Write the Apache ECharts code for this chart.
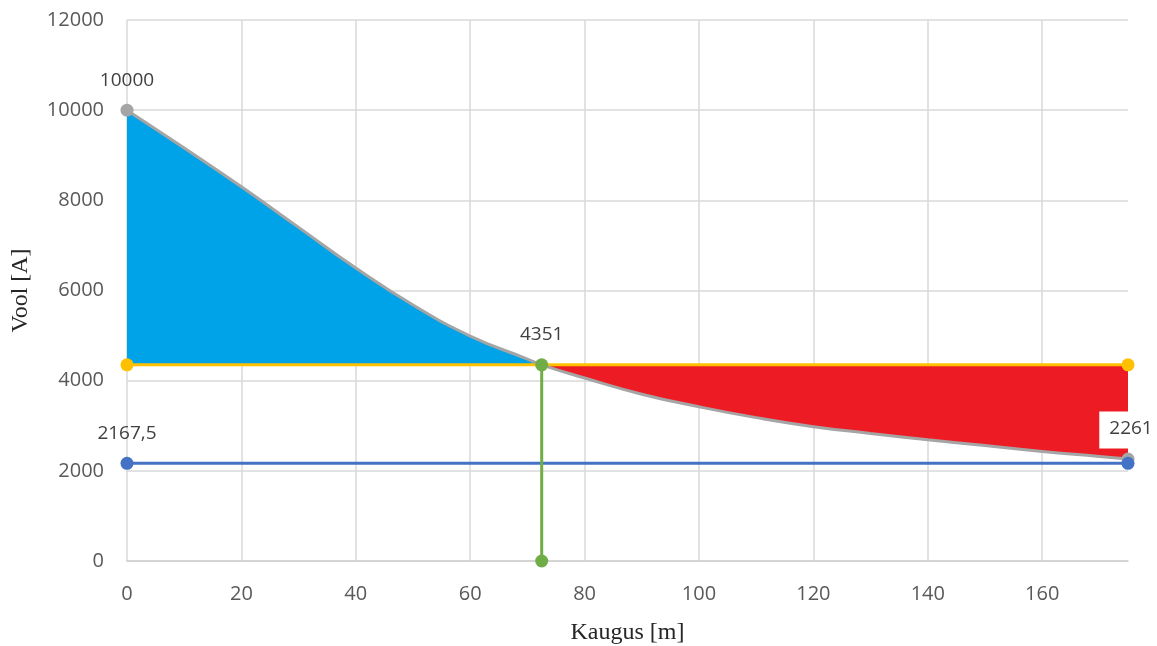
<!DOCTYPE html>
<html>
<head>
<meta charset="utf-8">
<title>Vool ja kaugus</title>
<script src="https://cdn.jsdelivr.net/npm/echarts@6/dist/echarts.min.js"></script>
<style>
  html, body { margin: 0; padding: 0; background: #ffffff; }
  #chart { width: 1157px; height: 646px; }
</style>
</head>
<body>
<div id="chart"></div>
<script>
// Distance along the line [m] and fault current [A] at that distance
const distance = [0, 10, 20, 30, 40, 50, 60, 70, 72.5, 80, 90, 100, 110, 120, 130, 140, 150, 160, 170, 175];
const current  = [10000, 9160, 8300, 7400, 6500, 5680, 4990, 4480, 4351, 4060, 3700, 3420, 3180, 2980, 2830, 2690, 2560, 2430, 2320, 2261];

// Protection setting levels
const crossDistance = 72.5;   // where the current falls to the setting
const settingCurrent = 4351;  // upper setting [A]
const minCurrent = 2167.5;    // lower limit [A]
const lineEnd = 175;          // line length [m]

// Axis ticks
const xTicks = [0, 20, 40, 60, 80, 100, 120, 140, 160];
const yTicks = [0, 2000, 4000, 6000, 8000, 10000, 12000];

const fmt = v => String(v).replace('.', ',');

const curvePts = distance.map((d, i) => [d, current[i]]);
const beforeCross = curvePts.filter(p => p[0] <= crossDistance);
const afterCross = curvePts.filter(p => p[0] >= crossDistance);
const lastIdx = curvePts.length - 1;

const labelStyle = {
  fontFamily: 'Open Sans',
  fontSize: 19,
  color: '#404040'
};
const markerSize = 13;

const chart = echarts.init(document.getElementById('chart'), null, { renderer: 'canvas' });

chart.setOption({
  animation: false,
  backgroundColor: '#ffffff',
  grid: { left: 127, right: 29, top: 20, bottom: 85, containLabel: false, outerBoundsMode: 'none' },
  xAxis: {
    type: 'value',
    min: 0,
    max: lineEnd,
    interval: xTicks[1] - xTicks[0],
    name: 'Kaugus [m]',
    nameLocation: 'middle',
    nameGap: 60,
    nameTextStyle: { fontFamily: 'Liberation Serif', fontSize: 24, color: '#262626' },
    axisLine: { show: true, lineStyle: { color: '#d0d0d0', width: 1.5 } },
    axisTick: { show: false },
    axisLabel: {
      margin: 23,
      fontFamily: 'Open Sans',
      fontSize: 20,
      color: '#595959',
      formatter: v => (xTicks.indexOf(v) >= 0 ? String(v) : '')
    },
    splitLine: { show: true, showMaxLine: false, lineStyle: { color: '#d9d9d9', width: 1.5 } }
  },
  yAxis: {
    type: 'value',
    min: yTicks[0],
    max: yTicks[yTicks.length - 1],
    interval: yTicks[1] - yTicks[0],
    name: 'Vool [A]',
    nameLocation: 'middle',
    nameGap: 94,
    nameTextStyle: { fontFamily: 'Liberation Serif', fontSize: 24, color: '#262626' },
    axisLine: { show: false },
    axisTick: { show: false },
    axisLabel: {
      margin: 23,
      fontFamily: 'Open Sans',
      fontSize: 20,
      color: '#595959',
      formatter: v => String(v)
    },
    splitLine: { show: true, lineStyle: { color: '#d9d9d9', width: 1.5 } }
  },
  series: [
    {
      // area above the setting, before the crossing point
      type: 'line',
      data: beforeCross,
      smooth: true,
      symbol: 'none',
      lineStyle: { width: 0 },
      areaStyle: { color: '#00A2E8', opacity: 1, origin: settingCurrent },
      silent: true,
      z: 1
    },
    {
      // area below the setting, after the crossing point
      type: 'line',
      data: afterCross,
      smooth: true,
      symbol: 'none',
      lineStyle: { width: 0 },
      areaStyle: { color: '#ED1C24', opacity: 1, origin: settingCurrent },
      silent: true,
      z: 1
    },
    {
      // setting current
      type: 'line',
      data: [[0, settingCurrent], [lineEnd, settingCurrent]],
      symbol: 'circle',
      symbolSize: markerSize,
      itemStyle: { color: '#FFC000' },
      lineStyle: { color: '#FFC000', width: 3 },
      z: 2
    },
    {
      // minimum current
      type: 'line',
      data: [
        { value: [0, minCurrent], label: { show: true } },
        [lineEnd, minCurrent]
      ],
      symbol: 'circle',
      symbolSize: markerSize,
      itemStyle: { color: '#4472C4' },
      lineStyle: { color: '#4472C4', width: 3 },
      label: Object.assign({ show: false, position: 'top', distance: 14, formatter: p => fmt(p.value[1]) }, labelStyle),
      z: 4
    },
    {
      // current along the line
      type: 'line',
      data: curvePts.map((p, i) => {
        const end = i === 0 || i === lastIdx;
        const item = { value: p, symbolSize: end ? markerSize : 0 };
        if (end) {
          item.label = { show: true };
          if (i === lastIdx) {
            item.label.backgroundColor = '#ffffff';
            item.label.padding = [8, 4, 10, 10];
            item.label.distance = 4;
          }
        }
        return item;
      }),
      smooth: true,
      symbol: 'circle',
      showAllSymbol: true,
      itemStyle: { color: '#A5A5A5' },
      lineStyle: { color: '#A5A5A5', width: 3 },
      label: Object.assign({ show: false, position: 'top', distance: 14, formatter: p => fmt(p.value[1]) }, labelStyle),
      z: 3
    },
    {
      // crossing distance
      type: 'line',
      data: [
        [crossDistance, 0],
        { value: [crossDistance, settingCurrent], label: { show: true } }
      ],
      symbol: 'circle',
      symbolSize: markerSize,
      itemStyle: { color: '#70AD47' },
      lineStyle: { color: '#70AD47', width: 3 },
      label: Object.assign({ show: false, position: 'top', distance: 14, formatter: p => fmt(p.value[1]) }, labelStyle),
      z: 5
    }
  ]
});
</script>
</body>
</html>
